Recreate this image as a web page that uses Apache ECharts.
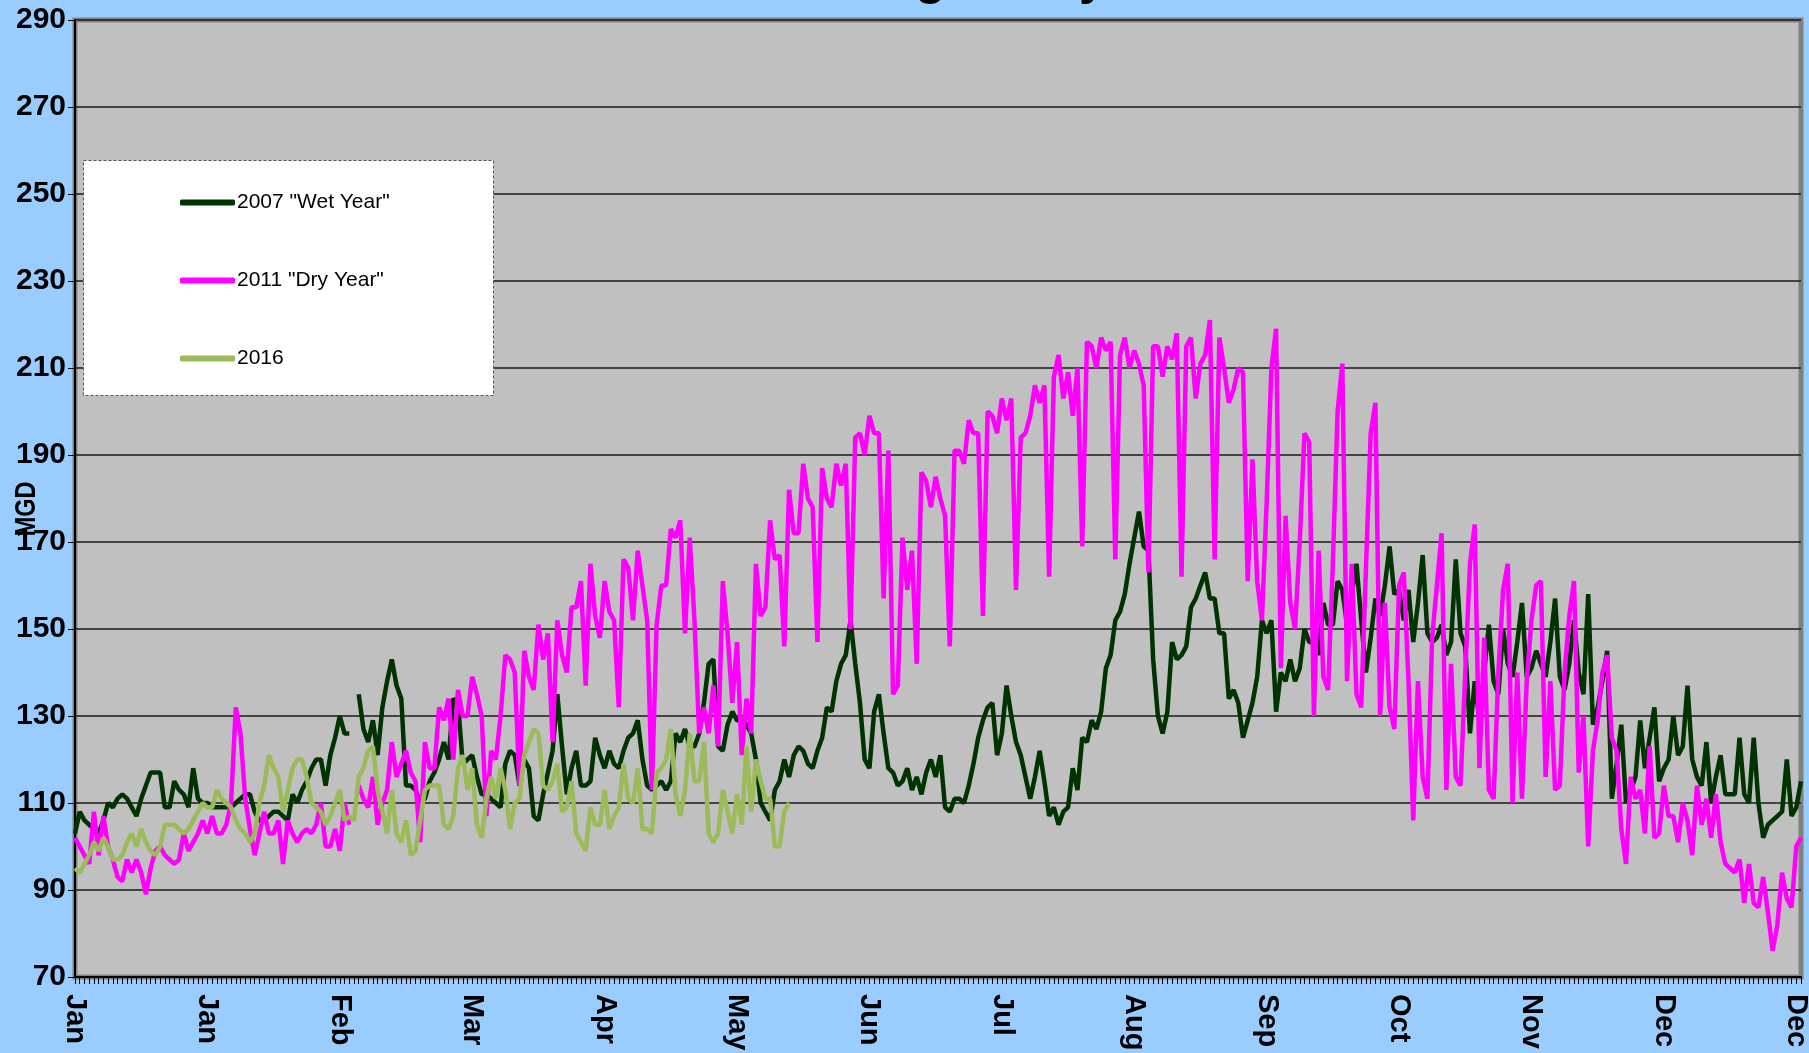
<!DOCTYPE html>
<html>
<head>
<meta charset="utf-8">
<title>MGD</title>
<script src="https://cdn.jsdelivr.net/npm/echarts/dist/echarts.min.js"></script>
<style>
  html, body { margin: 0; padding: 0; background: #99CCFF; }
  #main { width: 1809px; height: 1053px; }
</style>
</head>
<body>
<div id="main"></div>
<script>
var months = ['Jan', 'Feb', 'Mar', 'Apr', 'May', 'Jun', 'Jul', 'Aug', 'Sep', 'Oct', 'Nov', 'Dec'];
var monthDays = [31, 29, 31, 30, 31, 30, 31, 31, 30, 31, 30, 31];

// one category per calendar day (leap year, so 2007 / 2011 have a hole on Feb 29)
var days = [];
for (var m = 0; m < 12; m++) {
  for (var d = 1; d <= monthDays[m]; d++) {
    days.push(months[m] + ' ' + d);
  }
}

var wet2007 = [
  103,108,106,105,104,103,106,110,109,111,
  112,111,109,107,111,114,117,117,117,109,
  109,115,113,112,109,118,111,110,110,109,
  109,109,109,109,110,111,112,112,108,106,
  106,107,108,108,107,106,112,110,113,115,
  118,120,120,114,121,125,130,126,126,null,
  135,127,124,129,121,132,138,143,137,134,
  114,114,113,110,111,115,117,120,124,120,
  134,133,119,120,121,116,112,112,111,110,
  109,119,122,121,114,120,118,107,106,112,
  117,122,135,123,112,118,122,114,114,115,
  125,121,118,122,119,118,122,125,126,129,
  120,114,113,114,115,113,115,126,124,127,
  123,123,126,133,142,143,123,122,128,131,
  129,129,128,126,120,110,108,106,113,115,
  120,116,121,123,122,119,118,122,125,132,
  131,138,142,144,152,142,133,120,118,131,
  135,126,118,117,114,115,118,113,116,112,
  117,120,116,121,109,108,111,111,110,114,
  119,125,129,132,133,121,126,137,130,124,
  121,116,111,116,122,115,107,109,105,108,
  109,118,113,125,124,129,127,131,141,144,
  152,154,158,165,171,177,169,168,143,130,
  126,131,147,143,144,146,155,157,160,163,
  157,157,149,149,134,136,133,125,129,133,
  139,152,149,152,131,140,138,143,138,141,
  150,147,147,144,156,151,151,161,159,151,
  158,165,152,140,148,157,153,160,169,158,
  159,152,159,147,156,167,149,147,148,151,
  144,147,166,149,146,126,138,129,140,151,
  138,135,150,142,139,147,156,139,141,145,
  142,139,147,157,139,136,142,152,140,135,
  158,128,132,138,145,111,119,128,110,113,
  116,129,118,125,132,115,118,120,130,121,
  123,137,120,116,114,124,110,116,121,112,
  112,112,125,112,110,125,110,102,105,106,
  107,108,120,107,109,115
];

var dry2011 = [
  102,100,98,96,108,98,107,100,97,93,
  92,97,94,97,94,89,95,99,100,98,
  97,96,97,103,99,101,103,106,103,107,
  103,103,105,110,132,126,111,104,98,103,
  108,103,103,106,96,106,103,101,103,104,
  103,105,110,100,100,104,99,110,105,null,
  114,111,109,116,105,110,113,124,116,119,
  122,117,115,101,124,118,118,132,129,134,
  120,136,130,130,139,135,130,107,122,120,
  130,144,143,140,114,145,139,136,151,143,
  149,124,152,144,140,155,155,161,137,165,
  153,148,161,154,152,132,166,164,152,168,
  160,152,113,151,160,160,173,171,175,149,
  171,152,126,132,126,137,123,161,149,133,
  147,121,134,126,165,153,155,175,166,167,
  146,182,172,172,188,180,178,147,187,180,
  178,188,183,188,150,194,195,190,199,195,
  195,157,191,135,137,171,159,168,142,186,
  184,178,185,180,176,146,191,191,188,198,
  195,195,153,200,199,195,203,198,203,159,
  194,195,199,206,202,206,162,208,213,203,
  209,199,210,169,216,215,210,217,214,216,
  166,213,217,210,214,211,206,163,215,215,
  208,215,212,218,162,215,217,203,211,213,
  221,166,217,210,202,205,210,209,161,189,
  161,152,179,210,219,141,176,156,150,170,
  195,193,130,168,139,136,165,200,211,138,
  165,135,132,164,195,202,130,156,132,127,
  160,163,138,106,138,116,111,148,160,172,
  113,142,116,114,140,165,174,118,148,113,
  111,140,159,165,110,140,111,138,152,160,
  161,116,138,113,114,140,153,161,117,130,
  100,122,129,140,144,125,122,104,96,116,
  111,113,103,123,102,103,114,107,107,101,
  110,106,98,114,105,111,102,112,101,96,
  95,94,97,87,96,87,86,93,85,76,
  82,94,88,86,100,102
];

var y2016 = [
  95,94,96,98,101,99,102,100,97,97,
  98,101,103,100,104,101,99,98,100,105,
  105,105,104,103,104,106,108,110,109,109,
  113,111,110,109,106,104,103,101,103,110,
  114,121,118,116,108,113,118,120,120,116,
  110,109,108,105,107,110,113,106,107,106,
  116,118,122,123,113,108,103,113,103,101,
  106,98,99,106,113,114,114,114,105,104,
  107,118,121,113,118,105,102,111,116,111,
  118,113,104,110,111,121,124,127,126,114,
  113,115,119,108,109,115,103,101,99,109,
  105,105,113,104,107,109,119,111,110,118,
  104,104,103,117,118,120,127,112,107,113,
  126,115,115,124,103,101,103,113,108,103,
  112,105,123,108,120,115,111,111,100,100,
  108,110
];

var seriesNames = ['2007 "Wet Year"', '2011 "Dry Year"', '2016'];
var seriesColors = ['#003300', '#FF00FF', '#9BBB59'];

var font = "'Liberation Sans', Arial, sans-serif";

var myChart = echarts.init(document.getElementById('main'));

var option = {
  backgroundColor: '#99CCFF',
  animation: false,
  color: seriesColors,
  title: {
    text: 'Average Daily Demand',
    left: 773,
    top: -50,
    textStyle: { fontFamily: font, fontSize: 50, fontWeight: 'bold', color: '#000' }
  },
  graphic: [
    {
      type: 'rect',
      left: 83,
      top: 160,
      z: 3,
      shape: { width: 410, height: 235 },
      style: { fill: '#ffffff', stroke: '#555555', lineWidth: 1, lineDash: [3, 2] }
    },
    {
      // axis title, narrow bold like the original
      type: 'text',
      x: 27,
      y: 509,
      rotation: Math.PI / 2,
      scaleX: 0.78,
      z: 10,
      style: {
        text: 'MGD',
        fill: '#000',
        font: 'bold 30px ' + font,
        textAlign: 'center',
        textVerticalAlign: 'middle'
      }
    }
  ],
  legend: {
    orient: 'vertical',
    left: 175,
    top: 186,
    z: 5,
    itemGap: 55,
    itemWidth: 55,
    itemHeight: 6,
    icon: 'roundRect',
    data: seriesNames,
    textStyle: { fontFamily: font, fontSize: 21, color: '#000', lineHeight: 23, padding: [0, 0, 0, -3] }
  },
  grid: {
    left: 75,
    right: 8,
    top: 20,
    bottom: 76,
    containLabel: false,
    outerBoundsMode: 'none',
    show: true,
    backgroundColor: '#C0C0C0',
    borderColor: '#808080',
    borderWidth: 5
  },
  xAxis: {
    type: 'category',
    data: days,
    boundaryGap: false,
    axisLine: { show: true, lineStyle: { color: '#000', width: 2 } },
    axisTick: { show: true, interval: 0, length: 7, lineStyle: { color: '#000', width: 1 } },
    axisLabel: {
      interval: 27,
      rotate: -90,
      margin: 17,
      color: '#000',
      fontFamily: font,
      fontSize: 29,
      fontWeight: 'bold',
      formatter: function (v) { return v.split(' ')[0]; }
    },
    splitLine: { show: false }
  },
  yAxis: {
    type: 'value',
    min: 70,
    max: 290,
    interval: 20,
    axisLine: { show: true, lineStyle: { color: '#000', width: 2 } },
    axisTick: { show: true, length: 7, lineStyle: { color: '#000' } },
    axisLabel: { margin: 9, color: '#000', fontFamily: font, fontSize: 30, fontWeight: 'bold' },
    splitLine: { show: true, lineStyle: { color: '#1a1a1a', width: 1.5 } }
  },
  series: [
    { name: seriesNames[0], type: 'line', data: wet2007, symbol: 'none', connectNulls: false, lineStyle: { width: 4.5 } },
    { name: seriesNames[1], type: 'line', data: dry2011, symbol: 'none', connectNulls: false, lineStyle: { width: 4.5 } },
    { name: seriesNames[2], type: 'line', data: y2016, symbol: 'none', lineStyle: { width: 4.5 } }
  ]
};

myChart.setOption(option);
</script>
</body>
</html>
